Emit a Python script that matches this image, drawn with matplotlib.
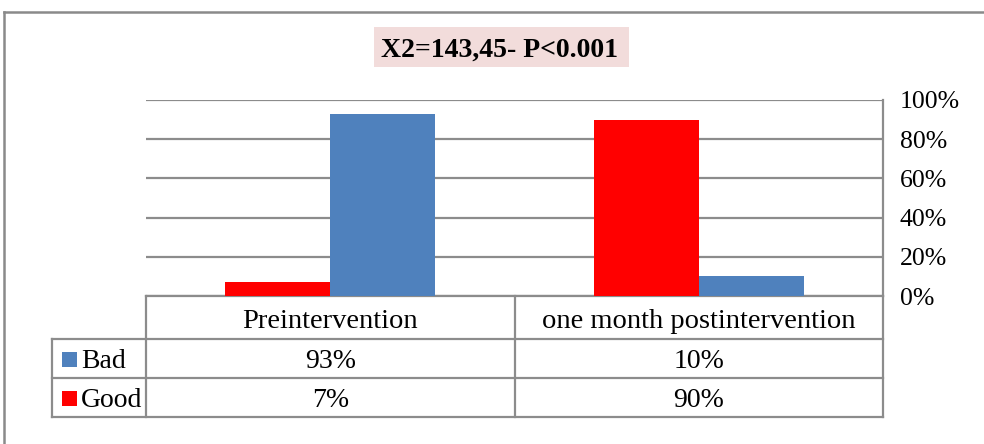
import matplotlib
matplotlib.use("Agg")
import matplotlib.pyplot as plt
import matplotlib.transforms as mtrans
from matplotlib.lines import Line2D
from matplotlib.patches import Rectangle
from matplotlib.ticker import PercentFormatter

# Data
categories = ["Preintervention", "one month postintervention"]
series_names = ["Bad", "Good"]
bad_values = [93, 10]
good_values = [7, 90]
y_ticks = [0, 20, 40, 60, 80, 100]
title_text = "X2=143,45- P<0.001"

BLUE = "#4f81bd"
RED = "#ff0000"
GRID = "#8c8c8c"
FONT = "Liberation Serif"

plt.rcParams["font.family"] = [FONT, "DejaVu Serif"]

W, H = 984, 444
fig = plt.figure(figsize=(W / 100, H / 100), dpi=100)

# plot area in pixel coordinates (left, top, right, bottom)
px_l, px_t, px_r, px_b = 146, 100, 883, 296
ax = fig.add_axes([px_l / W, (H - px_b) / H, (px_r - px_l) / W, (px_b - px_t) / H])

x = list(range(len(categories)))
bw = 0.285
ax.bar([i - bw / 2 for i in x], good_values, width=bw, color=RED, zorder=3)
ax.bar([i + bw / 2 for i in x], bad_values, width=bw, color=BLUE, zorder=3)

ax.set_xlim(-0.5, len(categories) - 0.5)
ax.set_ylim(0, 100)
ax.set_yticks(y_ticks)
ax.yaxis.set_major_formatter(PercentFormatter(decimals=0))
ax.yaxis.tick_right()
ax.tick_params(axis="y", length=0, pad=12, labelsize=18.5)
for lab in ax.get_yticklabels():
    lab.set_horizontalalignment("left")
    lab.set_verticalalignment("center_baseline")
ax.set_xticks([])
ax.grid(axis="y", color=GRID, linewidth=1.6, zorder=0)
for side in ["left", "top", "bottom"]:
    ax.spines[side].set_visible(False)
ax.spines["right"].set_color(GRID)
ax.spines["right"].set_linewidth(1.6)

# Data table below the plot area (axes-fraction units)
ph = px_b - px_t
pw = px_r - px_l
def ay(py):
    return (px_b - py) / ph
def axf(pxx):
    return (pxx - px_l) / pw

row_edges = [296, 339, 378, 417]
col_edges = [52, 146, 515, 883]
row_baselines = [328, 368, 407]
tr = ax.transAxes
lk = dict(color=GRID, linewidth=1.6, transform=tr, clip_on=False, solid_capstyle="projecting")

ax.add_line(Line2D([0, 1], [0, 0], **lk))
for ry in row_edges[1:]:
    ax.add_line(Line2D([axf(col_edges[0]), 1], [ay(ry)] * 2, **lk))
for cx in col_edges[1:]:
    ax.add_line(Line2D([axf(cx)] * 2, [0, ay(row_edges[-1])], **lk))
ax.add_line(Line2D([axf(col_edges[0])] * 2, [ay(row_edges[1]), ay(row_edges[-1])], **lk))

blend = mtrans.blended_transform_factory(ax.transData, tr)
for i, c in enumerate(categories):
    ax.text(i, ay(row_baselines[0]), c, transform=blend, ha="center", va="baseline",
            fontsize=20.5)

row_vals = [bad_values, good_values]
row_colors = [BLUE, RED]
for r, (name, vals, col) in enumerate(zip(series_names, row_vals, row_colors)):
    base = row_baselines[r + 1]
    for i, v in enumerate(vals):
        ax.text(i, ay(base), f"{v}%", transform=blend, ha="center", va="baseline",
                fontsize=20)
    ax.add_patch(Rectangle((axf(62), ay(base - 1)), 15 / pw, 15 / ph, transform=tr,
                           facecolor=col, edgecolor="none", clip_on=False))
    ax.text(axf(81), ay(base), name, transform=tr, ha="left", va="baseline", fontsize=20)

# Title box
fig.patches.append(Rectangle((374 / W, (H - 67) / H), (629 - 374) / W, 40 / H,
                             transform=fig.transFigure, facecolor="#f2dcdb", edgecolor="none"))
fig.text(499.5 / W, (H - 57) / H, title_text, ha="center", va="baseline",
         fontsize=20, fontweight="bold")

# Outer chart frame (top and left edges)
fig.lines.append(Line2D([4 / W, 1], [(H - 12) / H] * 2, transform=fig.transFigure,
                        color="#8a8a8a", linewidth=1.8))
fig.lines.append(Line2D([4 / W] * 2, [(H - 12) / H, 0], transform=fig.transFigure,
                        color="#8a8a8a", linewidth=1.8))

fig.savefig("out.png", dpi=100)
